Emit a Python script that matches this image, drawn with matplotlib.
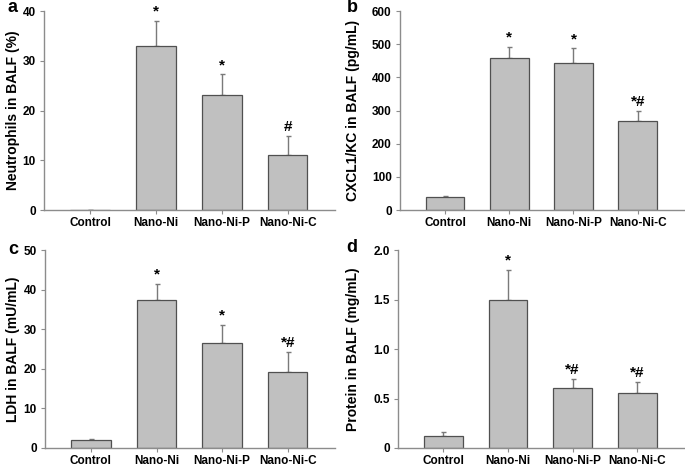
import matplotlib
matplotlib.use("Agg")
import matplotlib.pyplot as plt

plt.rcParams['font.family'] = ['Liberation Sans', 'DejaVu Sans']
plt.rcParams['font.weight'] = 'bold'

categories = ["Control", "Nano-Ni", "Nano-Ni-P", "Nano-Ni-C"]

neutro_mean = [0.0, 33.0, 23.1, 11.0]
neutro_err = [0.0, 5.0, 4.2, 3.9]
neutro_marks = ["", "*", "*", "#"]

cxcl_mean = [38, 457, 442, 269]
cxcl_err = [5, 35, 45, 30]
cxcl_marks = ["", "*", "*", "*#"]

ldh_mean = [1.9, 37.5, 26.6, 19.3]
ldh_err = [0.4, 4.0, 4.5, 4.9]
ldh_marks = ["", "*", "*", "*#"]

prot_mean = [0.12, 1.49, 0.61, 0.56]
prot_err = [0.04, 0.31, 0.09, 0.11]
prot_marks = ["", "*", "*#", "*#"]

panels = [
    ("a", neutro_mean, neutro_err, neutro_marks, "Neutrophils in BALF (%)", 40, [0, 10, 20, 30, 40], ["0", "10", "20", "30", "40"]),
    ("b", cxcl_mean, cxcl_err, cxcl_marks, "CXCL1/KC in BALF (pg/mL)", 600, [0, 100, 200, 300, 400, 500, 600], ["0", "100", "200", "300", "400", "500", "600"]),
    ("c", ldh_mean, ldh_err, ldh_marks, "LDH in BALF (mU/mL)", 50, [0, 10, 20, 30, 40, 50], ["0", "10", "20", "30", "40", "50"]),
    ("d", prot_mean, prot_err, prot_marks, "Protein in BALF (mg/mL)", 2.0, [0, 0.5, 1.0, 1.5, 2.0], ["0", "0.5", "1.0", "1.5", "2.0"]),
]

W, H = 685, 467
fig = plt.figure(figsize=(W / 100, H / 100), dpi=100)

# pixel boxes: left, right, top, bottom
boxes = [
    (44, 335, 11, 210),
    (400, 684, 11, 210),
    (45, 335, 250, 448),
    (398, 684, 250, 448),
]
letter_pos = [(13, 8), (352, 8), (13, 249), (352, 247)]
ylabel_x = [13, 353, 13, 353]

spine_col = "#8c8c8c"
for (letter, mean, err, marks, ylab, ymax, yt, ytl), (l, r, t, b), (lx, ly), ylx in zip(
        panels, boxes, letter_pos, ylabel_x):
    ax = fig.add_axes([l / W, 1 - b / H, (r - l) / W, (b - t) / H])
    x = list(range(len(categories)))
    ax.bar(x, mean, width=0.6, color="#c0c0c0", edgecolor="#505050", linewidth=0.9, zorder=2)
    ax.errorbar(x, mean, yerr=[[0] * len(err), err], fmt="none", ecolor="#7a7a7a",
                elinewidth=1.0, capsize=1.8, capthick=1.0, zorder=1)
    for xi, m, e, mk in zip(x, mean, err, marks):
        if mk:
            ax.annotate(mk, (xi, m + e), xytext=(0, 1.5), textcoords="offset points",
                        ha="center", va="bottom", fontsize=11, fontweight="bold")
    ax.set_xlim(-0.7, 3.72)
    ax.set_ylim(0, ymax)
    ax.set_xticks(x)
    ax.set_xticklabels(categories, fontsize=8.5, fontweight="bold")
    ax.set_yticks(yt)
    ax.set_yticklabels(ytl, fontsize=8.5, fontweight="bold")
    for s in ["top", "right"]:
        ax.spines[s].set_visible(False)
    for s in ["left", "bottom"]:
        ax.spines[s].set_color(spine_col)
        ax.spines[s].set_linewidth(1.0)
    ax.tick_params(axis="both", direction="out", length=3, width=0.8, color=spine_col)
    ax.tick_params(axis="x", pad=2)
    ax.tick_params(axis="y", pad=3)
    fig.text(ylx / W, 1 - ((t + b) / 2) / H, ylab, rotation=90, ha="center", va="center",
             fontsize=10, fontweight="bold")
    fig.text(lx / W, 1 - ly / H, letter, ha="center", va="center", fontsize=13, fontweight="bold")

fig.savefig("out.png", dpi=100)
